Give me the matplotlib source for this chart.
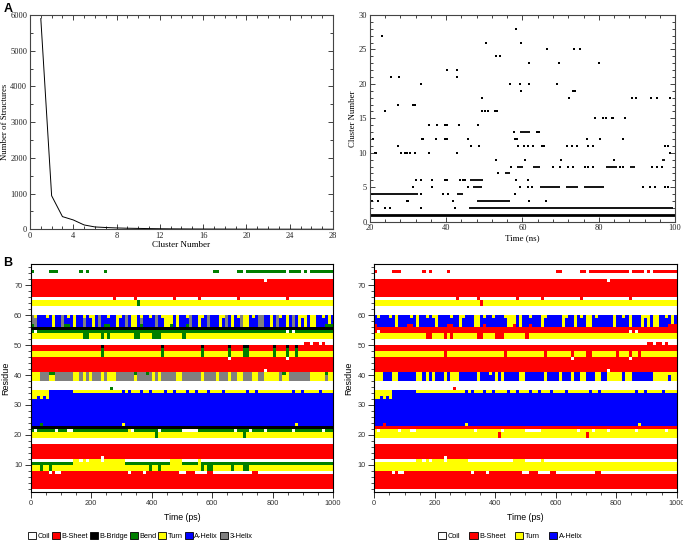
import numpy as np
import matplotlib
matplotlib.use('Agg')
import matplotlib.pyplot as plt
from matplotlib.colors import ListedColormap
from matplotlib.patches import Patch
from matplotlib.ticker import MultipleLocator
from matplotlib import font_manager

SERIF = 'Liberation Serif'
SANS = 'Liberation Sans'
_installed = {f.name for f in font_manager.fontManager.ttflist}
NARROW = 'Liberation Sans Narrow' if 'Liberation Sans Narrow' in _installed else SANS

# ---------------- Panel A (left): cluster populations ----------------
cluster_ids = list(range(1, 29))
structure_counts = [5900, 940, 355, 262, 122, 66, 50, 38, 30, 25, 20, 16, 13, 11,
                    9, 8, 7, 6, 5, 4, 4, 3, 3, 3, 2, 2, 2, 1]

# ---------------- Panel A (right): cluster vs time ----------------
run_clusters = [1, 2, 3, 4, 4, 5, 5, 5, 5, 6, 7, 9, 13, 8, 8, 8, 8]
run_starts = [20.0, 45.9, 48.0, 20.0, 42.7, 47.1, 64.6, 71.5, 76.0, 46.2, 55.3, 96.5, 59.3, 62.8, 82.0, 58.5, 88.2]
run_ends = [100.0, 99.5, 56.7, 32.7, 44.5, 49.3, 69.8, 74.5, 81.5, 49.7, 56.8, 97.4, 62.0, 64.6, 84.7, 60.2, 89.5]

point_times = [23.1, 23.9, 25.4, 27.7, 27.3, 31.2, 31.8, 27.4,
               21.3, 21.7, 28.1, 29.2, 29.8, 30.5, 31.8, 35.6, 42.9,
               20.7, 33.6, 34.0, 37.3, 39.7, 40.3, 45.8, 58.1, 58.5, 76.8, 80.3, 86.4,
               33.4, 56.7, 59.3, 61.8, 69.0,
               40.1, 42.7, 42.9,
               35.6, 37.5, 39.6, 40.3, 43.4, 48.4,
               32.0, 33.5, 36.2, 39.7, 40.1, 43.6, 44.3, 44.9, 58.3, 61.5,
               31.2, 36.2, 45.8, 59.3, 61.5, 62.4, 91.7, 93.4, 94.7, 97.4, 98.2,
               33.5, 39.2, 40.5, 58.0,
               20.6, 22.2, 29.6, 30.0, 41.7, 61.7, 66.1,
               23.9, 25.2, 33.5, 42.3,
               53.7,
               57.0, 68.1, 69.8, 72.0, 73.3, 76.4, 77.3, 78.6, 85.6, 86.4, 93.9, 95.2, 96.5,
               53.0, 60.6, 70.0, 84.0,
               98.7,
               46.4, 48.7, 58.9, 60.4, 61.5, 62.8, 65.2, 65.6, 71.6, 72.9, 74.4, 77.3, 78.6, 97.4, 98.2,
               57.8, 63.7, 64.4,
               79.0, 81.0, 82.0, 83.4, 83.8, 87.0,
               49.3, 50.2, 51.0, 52.9, 53.2,
               49.3, 72.3, 88.7, 89.9, 93.7, 95.4, 98.8,
               59.5, 73.3, 73.8,
               61.8, 69.7, 80.0,
               53.0, 54.1,
               66.5, 73.6, 75.2,
               50.4, 59.5,
               58.2]
point_clusters = [27, 16, 21, 21, 17, 17, 17, 11,
                  10, 10, 10, 10, 10, 10, 10, 10, 10,
                  12, 12, 12, 12, 12, 12, 12, 12, 12, 12, 12, 12,
                  20, 20, 20, 20, 20,
                  22, 22, 21,
                  14, 14, 14, 14, 14, 14,
                  6, 6, 6, 6, 6, 6, 6, 6, 6, 6,
                  5, 5, 5, 5, 5, 5, 5, 5, 5, 5, 5,
                  4, 4, 4, 4,
                  3, 3, 3, 3, 3, 3, 3,
                  2, 2, 2, 2,
                  7,
                  8, 8, 8, 8, 8, 8, 8, 8, 8, 8, 8, 8, 8,
                  9, 9, 9, 9,
                  10,
                  11, 11, 11, 11, 11, 11, 11, 11, 11, 11, 11, 11, 11, 11, 11,
                  13, 13, 13,
                  15, 15, 15, 15, 15, 15,
                  16, 16, 16, 16, 16,
                  18, 18, 18, 18, 18, 18, 18,
                  19, 19, 19,
                  23, 23, 23,
                  24, 24,
                  25, 25, 25,
                  26, 26,
                  28]

# ---------------- Panel B: DSSP secondary structure ----------------
N_RES = 76
N_FRAMES = 100
FRAME_PS = 10
ss_codes = ['C', 'E', 'B', 'S', 'T', 'H', 'G']
ss_colors = ['#ffffff', '#ff0000', '#000000', '#007f00', '#ffff00', '#0000ff', '#808080']
left_legend_labels = ['Coil', 'B-Sheet', 'B-Bridge', 'Bend', 'Turn', 'A-Helix', '3-Helix']
right_legend_codes = ['C', 'E', 'T', 'H']
right_legend_labels = ['Coil', 'B-Sheet', 'Turn', 'A-Helix']

# base state of each residue band (first residue, last residue, state)
left_bands = [(1, 1, 'C'), (2, 7, 'E'), (8, 9, 'T'), (10, 10, 'S'), (11, 11, 'C'),
              (12, 16, 'E'), (17, 18, 'C'), (19, 20, 'T'), (21, 21, 'S'), (22, 22, 'B'),
              (23, 33, 'H'), (34, 34, 'T'), (35, 37, 'C'), (38, 40, 'G'), (41, 45, 'E'),
              (46, 47, 'T'), (48, 49, 'E'), (50, 51, 'C'), (52, 53, 'T'), (54, 54, 'S'),
              (55, 55, 'B'), (56, 59, 'H'), (60, 62, 'C'), (63, 64, 'T'), (65, 65, 'C'),
              (66, 71, 'E'), (72, 76, 'C')]

helix_rows_pattern = ("GGHHHHHTHH" "GHHHTHHGHH" "THGHHHHHTH" "HGHTTHGHHH" "HGHHTTTHTH"
                      "HHGHHTHHGH" "HHTHGHTHHG" "TTHHHGGHHT" "HGHHTHGHTH" "THTTHHHHTH")
helix_top_pattern = ("GTHHHTHTHH" "GHTHTHHTHT" "THGHHTHHTT" "HGHTTHTHHT" "HGHTTTTHTH"
                     "HTGHHTTHGH" "HHTTGHTHTG" "TTHTHGGHHT" "HGTHTHGHTT" "THTTHHTHTH")
g310_rows_pattern = ("TTTGGGTTGG" "GGGGTTGTGT" "GGGTGTTTGG" "GGGGTGGGGG" "TGTGGGGGTT"
                     "GGGGGGTGGG" "GTGGGTGGTT" "GGGTTGGTTT" "TTGTTGGGGG" "GGTTTTTGTT")
g310_top_pattern = ("TTTGGGSSGG" "GGGGTTGTGT" "GGGTGTTTGG" "GGGGSGGGSG" "TGTGGGGGTT"
                    "GGGGGGTGGG" "GTGGGTGGTT" "GGGTTGGTTT" "TTGSTGGGGG" "GGTTTTTSTT")
row21_pattern = ("SCSSSSSSCS" "SSCCSSSSSS" "SSSSSSSSSS" "SSTCSSSSSS" "SSCSSSSSSS"
                 "CCCCCSSSSS" "SSSSSSSCSS" "SSCSSSSCSS" "SSSSSSCSSS" "SSSSSSCSSS")
row11_pattern = ("CCCCCCCCCC" "CCCCTTCTCT" "TTTCTTTTTT" "TCCCCCCCCC" "CCCCCCTTTT"
                 "CCCCCTCCCC" "CCCCCCCCCC" "CCCCCCCCCC" "CCCCCCCCCC" "CCCCCCCCCC")
row10_pattern = ("SSSSSSSSSS" "SSSSTTTTTT" "TTTTTTTTTT" "TSSSSSSSSS" "SSSSSSTTTT"
                 "SSSSSTSSSS" "SSSSSSSSSS" "SSSSSSSSSS" "SSSSSSSSSS" "SSSSSSSSSS")
row7_pattern = ("EEEEEECECC" "EEEEEEEEEE" "EEEEEEEEEE" "EECEEEECEE" "EEEEEEEEEC"
                "CEEECCCCEE" "CCCCCCCCCC" "CCCEECCCCC" "CCCCCCCCCC" "CCCCCCCCCC")

left_row_patterns = [((56, 57, 58), helix_rows_pattern), ((59,), helix_top_pattern),
                     ((38, 39), g310_rows_pattern), ((40,), g310_top_pattern),
                     ((21,), row21_pattern), ((11,), row11_pattern),
                     ((10,), row10_pattern), ((7,), row7_pattern)]

# (first residue, last residue, first frame, last frame, state)
left_runs = [
    (74, 74, 0, 0, 'S'), (74, 74, 6, 8, 'S'), (74, 74, 16, 16, 'S'), (74, 74, 18, 18, 'S'),
    (74, 74, 24, 24, 'S'), (74, 74, 60, 61, 'S'), (74, 74, 68, 69, 'S'), (74, 74, 71, 83, 'S'),
    (74, 74, 85, 88, 'S'), (74, 74, 90, 90, 'S'), (74, 74, 92, 99, 'S'),
    (71, 71, 77, 77, 'C'),
    (65, 65, 27, 27, 'E'), (65, 65, 34, 34, 'E'), (65, 65, 47, 47, 'E'), (65, 65, 55, 55, 'E'),
    (65, 65, 68, 68, 'E'), (65, 65, 84, 84, 'E'),
    (63, 64, 35, 35, 'S'),
    (56, 56, 0, 0, 'S'), (56, 56, 11, 12, 'S'), (56, 56, 24, 25, 'S'), (56, 56, 36, 36, 'S'),
    (56, 56, 46, 46, 'S'), (56, 56, 51, 51, 'S'), (56, 56, 97, 99, 'S'),
    (54, 54, 1, 1, 'C'), (54, 54, 84, 84, 'C'), (54, 54, 86, 86, 'C'),
    (52, 53, 17, 18, 'S'), (52, 53, 23, 23, 'S'), (52, 53, 25, 25, 'S'), (52, 53, 34, 35, 'S'),
    (52, 53, 40, 42, 'S'), (52, 53, 50, 50, 'S'),
    (50, 50, 90, 91, 'E'), (50, 50, 93, 94, 'E'), (50, 50, 96, 96, 'E'),
    (46, 48, 23, 23, 'S'), (46, 48, 43, 43, 'S'), (46, 48, 56, 56, 'S'), (46, 48, 65, 65, 'S'),
    (46, 48, 70, 71, 'S'), (46, 48, 80, 80, 'S'), (46, 48, 84, 84, 'S'), (46, 48, 87, 87, 'S'),
    (49, 49, 23, 23, 'B'), (49, 49, 43, 43, 'B'), (49, 49, 56, 56, 'B'), (49, 49, 65, 65, 'B'),
    (49, 49, 70, 71, 'B'), (49, 49, 80, 80, 'B'), (49, 49, 84, 84, 'B'), (49, 49, 87, 87, 'B'),
    (45, 45, 65, 65, 'C'), (45, 45, 84, 84, 'C'),
    (41, 41, 77, 77, 'C'),
    (35, 35, 26, 26, 'S'),
    (34, 34, 6, 13, 'H'), (34, 34, 30, 30, 'H'), (34, 34, 32, 32, 'H'), (34, 34, 36, 36, 'H'),
    (34, 34, 39, 39, 'H'), (34, 34, 44, 44, 'H'), (34, 34, 47, 47, 'H'), (34, 34, 51, 51, 'H'),
    (34, 34, 54, 54, 'H'), (34, 34, 58, 58, 'H'), (34, 34, 63, 63, 'H'), (34, 34, 71, 71, 'H'),
    (34, 34, 74, 74, 'H'), (34, 34, 86, 86, 'H'), (34, 34, 89, 89, 'H'), (34, 34, 95, 95, 'H'),
    (33, 33, 0, 5, 'T'), (32, 32, 0, 1, 'T'), (32, 32, 3, 3, 'T'), (32, 32, 5, 5, 'T'),
    (23, 23, 3, 3, 'S'), (23, 23, 30, 30, 'T'), (23, 23, 87, 87, 'T'),
    (19, 20, 41, 41, 'S'), (19, 20, 70, 70, 'S'),
    (12, 12, 23, 23, 'C'),
    (8, 9, 3, 3, 'S'), (8, 9, 6, 6, 'S'), (8, 9, 39, 39, 'S'), (8, 9, 42, 42, 'S'),
    (8, 9, 56, 56, 'S'), (8, 9, 58, 59, 'S'), (8, 9, 66, 66, 'S'), (8, 9, 70, 71, 'S'),
]

# right panel uses the reduced 4-state scheme
right_state_map = {'B': 'E', 'G': 'H', 'S': 'E'}
right_bend_as_turn_rows = [8, 9, 10, 11, 21, 38, 39, 40]


def build_left_grid():
    grid = np.full((N_RES, N_FRAMES), 'C', dtype='<U1')
    for lo, hi, code in left_bands:
        grid[lo - 1:hi, :] = code
    for rows, pattern in left_row_patterns:
        p = (pattern + pattern[-1] * N_FRAMES)[:N_FRAMES]
        for r in rows:
            grid[r - 1, :] = list(p)
    for rlo, rhi, clo, chi, code in left_runs:
        grid[rlo - 1:rhi, clo:chi + 1] = code
    return grid


def build_right_grid(left):
    grid = left.copy()
    for i in range(N_RES):
        for j in range(N_FRAMES):
            c = left[i, j]
            if c == 'S' and (i + 1) in right_bend_as_turn_rows:
                grid[i, j] = 'T'
            elif c in right_state_map:
                grid[i, j] = right_state_map[c]
    return grid


def to_index(grid):
    lut = {c: k for k, c in enumerate(ss_codes)}
    return np.vectorize(lut.get)(grid)


left_grid = build_left_grid()
right_grid = build_right_grid(left_grid)

fig = plt.figure(figsize=(6.83, 5.44), dpi=100)

# ---- A left ----
ax1 = fig.add_axes([0.0439, 0.5785, 0.4436, 0.3939])
ax1.plot(cluster_ids, structure_counts, color='black', lw=0.7)
ax1.set_xlim(0, 28)
ax1.set_ylim(0, 6000)
ax1.xaxis.set_major_locator(MultipleLocator(4))
ax1.xaxis.set_minor_locator(MultipleLocator(1))
ax1.yaxis.set_major_locator(MultipleLocator(1000))
ax1.yaxis.set_minor_locator(MultipleLocator(500))
ax1.set_xlabel('Cluster Number', fontsize=6.5, family=SERIF, labelpad=1)
ax1.set_ylabel('Number of Structures', fontsize=6.3, family=SERIF)
ax1.yaxis.set_label_coords(-0.068, 0.5)

# ---- A right ----
ax2 = fig.add_axes([0.5417, 0.5925, 0.4466, 0.3800])
ax2.hlines(run_clusters, run_starts, run_ends, color='black',
           linewidths=[2.0 if c == 1 else 1.3 for c in run_clusters])
ax2.scatter(point_times, point_clusters, s=2.0, marker='s', color='black', linewidths=0)
ax2.set_xlim(20, 100)
ax2.set_ylim(0, 30)
ax2.xaxis.set_major_locator(MultipleLocator(20))
ax2.xaxis.set_minor_locator(MultipleLocator(4))
ax2.yaxis.set_major_locator(MultipleLocator(5))
ax2.yaxis.set_minor_locator(MultipleLocator(1))
ax2.set_xlabel('Time (ns)', fontsize=6.5, family=SERIF, labelpad=1)
ax2.set_ylabel('Cluster Number', fontsize=6.3, family=SERIF)
ax2.yaxis.set_label_coords(-0.043, 0.5)

for ax in (ax1, ax2):
    ax.tick_params(which='both', direction='in', top=True, right=True, labelsize=6, pad=2,
                   colors='#222222')
    ax.tick_params(which='major', length=3.5, width=0.6)
    ax.tick_params(which='minor', length=2, width=0.6)
    for lab in ax.get_xticklabels() + ax.get_yticklabels():
        lab.set_fontfamily(SERIF)
    for s in ax.spines.values():
        s.set_linewidth(0.8)
        s.set_color('#444444')

# ---- B panels ----
cmap = ListedColormap(ss_colors)
for pos, grid in (([0.0449, 0.0961, 0.4426, 0.4180], left_grid),
                  ([0.5480, 0.0961, 0.4427, 0.4180], right_grid)):
    ax = fig.add_axes(pos)
    ax.imshow(to_index(grid), cmap=cmap, vmin=-0.5, vmax=len(ss_codes) - 0.5,
              extent=(0, N_FRAMES * FRAME_PS, 1, N_RES + 1), origin='lower',
              aspect='auto', interpolation='nearest')
    ax.set_xlim(0, N_FRAMES * FRAME_PS)
    ax.set_ylim(1, N_RES + 1)
    ax.xaxis.set_major_locator(MultipleLocator(200))
    ax.xaxis.set_minor_locator(MultipleLocator(50))
    ax.yaxis.set_major_locator(MultipleLocator(10))
    ax.yaxis.set_minor_locator(MultipleLocator(2))
    ax.tick_params(which='both', direction='out', labelsize=5.3, pad=2, colors='#333333')
    ax.tick_params(which='major', length=4, width=0.7)
    ax.tick_params(which='minor', length=2.2, width=0.6)
    for lab in ax.get_xticklabels() + ax.get_yticklabels():
        lab.set_fontfamily(NARROW)
    ax.set_xlabel('Time (ps)', fontsize=6.3, family=NARROW, labelpad=4)
    ax.set_ylabel('Residue', fontsize=6.5, family=SANS, labelpad=3)
    for s in ax.spines.values():
        s.set_linewidth(0.8)

left_handles = [Patch(facecolor=ss_colors[k], edgecolor='black', linewidth=0.6, label=lab)
                for k, lab in enumerate(left_legend_labels)]
right_handles = [Patch(facecolor=ss_colors[ss_codes.index(c)], edgecolor='black', linewidth=0.6,
                       label=lab) for c, lab in zip(right_legend_codes, right_legend_labels)]
leg_kw = dict(loc='center', frameon=False, handlelength=1.1, handleheight=1.1,
              handletextpad=0.2, borderpad=0, prop={'family': NARROW, 'size': 5.3})
fig.legend(handles=left_handles, ncol=7, columnspacing=0.25,
           bbox_to_anchor=(0.205, 0.0147), **leg_kw)
fig.legend(handles=right_handles, ncol=4, columnspacing=1.3,
           bbox_to_anchor=(0.747, 0.0147), **leg_kw)

fig.text(0.005, 0.995, 'A', fontsize=9, fontweight='bold', family=SANS, va='top', ha='left')
fig.text(0.005, 0.528, 'B', fontsize=9, fontweight='bold', family=SANS, va='top', ha='left')

fig.savefig('out.png', dpi=100)
